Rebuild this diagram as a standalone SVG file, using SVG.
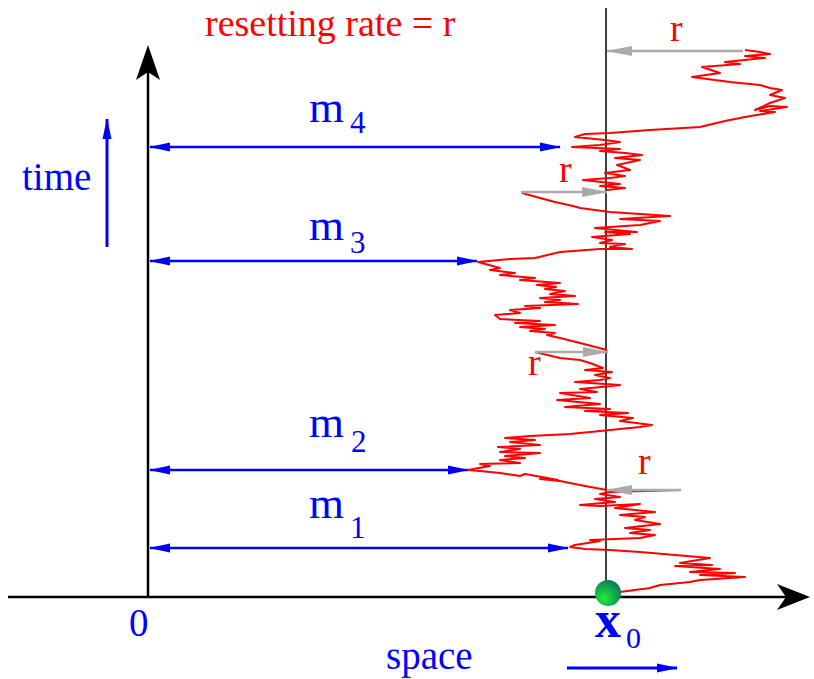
<svg xmlns="http://www.w3.org/2000/svg" width="814" height="679" viewBox="0 0 814 679">
<style>
.t{font-family:"Liberation Serif","Times New Roman",serif}
.blue{fill:#0000ff}
.red{fill:#ff0000}
.ax{stroke:#000;stroke-width:2.5;fill:none}
.ba{stroke:#0000ff;stroke-width:2.6;fill:none}
.ga{stroke:#aaaaaa;stroke-width:2.5;fill:none}
.walk{stroke:#ff0000;stroke-width:2;fill:none;stroke-linejoin:round}
</style>
<defs>
<marker id="bh" markerUnits="userSpaceOnUse" markerWidth="24" markerHeight="12" refX="0" refY="0" orient="auto-start-reverse" viewBox="-21 -6 24 12" overflow="visible">
<path d="M1,0 L-20,-4.5 L-20,4.5 Z" fill="#0000ff"/>
</marker>
<marker id="gh" markerUnits="userSpaceOnUse" markerWidth="28" markerHeight="12" refX="0" refY="0" orient="auto" viewBox="-27 -6 28 12" overflow="visible">
<path d="M1,0 L-25,-5 L-25,5 Z" fill="#aaaaaa"/>
</marker>
<radialGradient id="gd" cx="0.35" cy="0.7" r="0.8">
<stop offset="0" stop-color="#22ee33"/>
<stop offset="1" stop-color="#007060"/>
</radialGradient>
</defs>

<g id="axes">
<line class="ax" x1="148" y1="597" x2="148" y2="72"/>
<polygon points="148,45 136,80 148,72 160,80" fill="#000"/>
<line class="ax" x1="8" y1="597" x2="786" y2="597"/>
<polygon points="810,597 777,584 786,597 777,610" fill="#000"/>
<line x1="606" y1="8" x2="606" y2="597" stroke="#000" stroke-width="1.5"/>
</g>

<g id="walk">
<path class="walk" d="M620,592 L650,588 L660,585 L690,582 L700,580 L745,577 L700,575 L735,573 L690,572 L720,569 L675,566 L712,565 L680,563 L710,558 L640,552 L610,550 L585,549 L570,547
L575,545 L600,541 L590,540 L640,538 L655,535 L630,533 L650,530 L625,528 L660,524 L635,520 L645,517 L620,515 L655,512 L615,508 L640,504 L600,506 L580,505 L615,502 L595,499 L620,497 L600,494 L610,492 L680,490
M607,490 L585,486 L560,481 L540,479 L558,480 L525,474 L520,476 L500,473 L480,471 L468,470
L490,466 L480,464 L520,463 L500,460 L525,458 L505,456 L540,453 L500,452 L520,449 L498,447 L540,445 L510,442 L535,440 L505,438 L530,436 L570,434 L600,431 L610,430 L640,427
L652,425 L620,421 L633,418 L600,415 L628,413 L585,411 L610,409 L565,407 L600,404 L557,400 L590,398 L560,393 L597,392 L580,389 L612,386 L620,385 L575,382 L600,380 L610,378 L595,375 L612,372 L585,370 L603,368 L590,363 L580,360 L560,358 L535,352
M607,350 L580,343 L560,338 L547,335 L555,333 L530,331 L545,329 L520,327 L555,325 L515,323 L540,321 L500,319 L495,315 L520,313 L510,310 L540,308 L525,306 L578,304 L545,302 L560,300 L540,298 L575,296 L550,294 L565,291 L545,289 L556,287 L537,285 L560,283 L520,280 L535,278 L500,275 L515,273 L490,270 L500,268 L478,262
L510,259 L535,258 L560,252 L600,249 L632,249 L610,247 L625,244 L600,243 L612,240 L592,237 L630,234 L605,232 L637,232 L615,230 L595,228 L640,225 L660,221 L620,219 L670,216 L640,214 L610,212 L580,208 L573,206 L555,202 L540,198 L522,193
M607,190 L625,188 L600,186 L620,184 L583,180 L610,178 L625,176 L605,173 L630,170 L617,165 L640,160 L615,158 L642,155 L625,153 L600,151 L620,149 L572,147 L600,145 L620,142 L605,140 L575,137 L585,134 L610,133 L650,130 L700,127 L725,121
L745,117 L775,112 L760,111 L787,107 L770,106 L755,110 L770,103 L785,98 L770,95 L782,90 L770,88 L760,85 L730,82 L692,77 L720,73 L702,67 L740,64 L725,62 L765,58 L745,56 L770,54 L760,52 L745,50"/>
</g>

<g id="x0-dot">
<circle cx="608" cy="593" r="13" fill="url(#gd)"/>
</g>

<g id="connectors">
<line class="ba" x1="150" y1="147" x2="560" y2="147" marker-start="url(#bh)" marker-end="url(#bh)"/>
<line class="ba" x1="150" y1="261" x2="477" y2="261" marker-start="url(#bh)" marker-end="url(#bh)"/>
<line class="ba" x1="150" y1="470" x2="468" y2="470" marker-start="url(#bh)" marker-end="url(#bh)"/>
<line class="ba" x1="150" y1="548" x2="568" y2="548" marker-start="url(#bh)" marker-end="url(#bh)"/>
<line class="ba" x1="107" y1="247" x2="107" y2="119" marker-end="url(#bh)" style="stroke-width:3"/>
<line class="ba" x1="567" y1="668" x2="677" y2="668" marker-end="url(#bh)" style="stroke-width:3"/>
<line class="ga" x1="743" y1="51" x2="607" y2="51" marker-end="url(#gh)"/>
<line class="ga" x1="521" y1="192" x2="607" y2="192" marker-end="url(#gh)"/>
<line class="ga" x1="535" y1="352" x2="608" y2="352" marker-end="url(#gh)"/>
<line class="ga" x1="681" y1="490" x2="607" y2="490" marker-end="url(#gh)"/>
</g>

<g id="labels">
<text class="t red" x="205" y="36" font-size="38">resetting rate = r</text>
<text class="t red" x="670" y="41" font-size="38">r</text>
<text class="t red" x="559" y="182" font-size="38">r</text>
<text class="t red" x="528" y="375" font-size="38">r</text>
<text class="t red" x="638" y="474" font-size="38">r</text>
<text class="t blue" x="309" y="122" font-size="45">m</text>
<text class="t blue" x="350" y="133" font-size="31">4</text>
<text class="t blue" x="309" y="240" font-size="45">m</text>
<text class="t blue" x="350" y="253" font-size="31">3</text>
<text class="t blue" x="309" y="437" font-size="45">m</text>
<text class="t blue" x="351" y="452" font-size="31">2</text>
<text class="t blue" x="309" y="518" font-size="45">m</text>
<text class="t blue" x="350" y="538" font-size="31">1</text>
<text class="t blue" x="22" y="190" font-size="39">time</text>
<text class="t blue" x="129" y="636" font-size="39">0</text>
<text class="t blue" x="386" y="669" font-size="39">space</text>
<text class="t blue" x="595" y="637" font-size="52" font-weight="bold">x</text>
<text class="t blue" x="626" y="648" font-size="30">0</text>
</g>
</svg>
